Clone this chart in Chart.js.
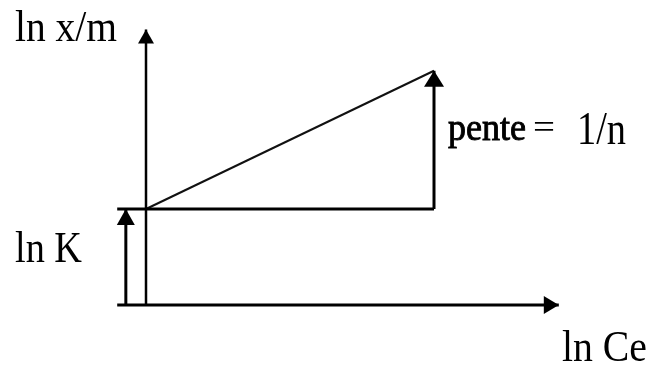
<!DOCTYPE html>
<html>
<head>
<meta charset="utf-8">
<script src="https://cdn.jsdelivr.net/npm/chart.js@4"></script>
<style>
  html, body { margin: 0; padding: 0; background: #fff; }
  #wrap { width: 649px; height: 367px; }
</style>
</head>
<body>
<div id="wrap"><canvas id="freundlich" width="649" height="367"></canvas></div>
<script>
// linearised Freundlich isotherm: ln x/m = ln K + (1/n) ln Ce
const lnCe = [0, 3];
const lnXm = [1.0, 2.44];
const lnK = 1.0;

// axis extents (same units as the data)
const xAxisRange = [-0.3, 4.3];
const yAxisRange = [0, 2.87];
const lnKArrowX = -0.21;

const labels = ['ln x/m', 'ln K', 'ln Ce', 'pente', '=', '1/n'];

function seg(x0, y0, x1, y1) {
  return [{ x: x0, y: y0 }, { x: x1, y: y1 }];
}

const lineStyle = {
  showLine: true,
  pointRadius: 0,
  borderColor: '#000',
  borderWidth: 3,
  clip: false,
};

const datasets = [
  // axes
  { ...lineStyle, data: seg(xAxisRange[0], 0, xAxisRange[1], 0), arrow: { len: 15, half: 9 } },
  { ...lineStyle, borderWidth: 2.5, data: seg(lnCe[0], yAxisRange[0], lnCe[0], yAxisRange[1]), arrow: { len: 14, half: 8 } },
  // intercept ln K
  { ...lineStyle, data: seg(lnKArrowX, 0, lnKArrowX, lnK), arrow: { len: 16, half: 9 } },
  // horizontal run
  { ...lineStyle, data: seg(xAxisRange[0], lnK, lnCe[1], lnK) },
  // rise -> slope 1/n
  { ...lineStyle, data: seg(lnCe[1], lnK, lnCe[1], lnXm[1]), arrow: { len: 16, half: 10 } },
  // the fitted line
  { ...lineStyle, borderWidth: 2, borderColor: '#111', data: seg(lnCe[0], lnXm[0], lnCe[1], lnXm[1]) },
];

const arrowHeads = {
  id: 'arrowHeads',
  afterDatasetsDraw(chart) {
    const { ctx, scales } = chart;
    chart.data.datasets.forEach(ds => {
      if (!ds.arrow) return;
      const a = ds.data[0], b = ds.data[1];
      const x0 = scales.x.getPixelForValue(a.x), y0 = scales.y.getPixelForValue(a.y);
      const x1 = scales.x.getPixelForValue(b.x), y1 = scales.y.getPixelForValue(b.y);
      const ang = Math.atan2(y1 - y0, x1 - x0);
      const { len, half } = ds.arrow;
      ctx.save();
      ctx.translate(x1, y1);
      ctx.rotate(ang);
      ctx.beginPath();
      ctx.moveTo(0, 0);
      ctx.lineTo(-len, -half);
      ctx.lineTo(-len, half);
      ctx.closePath();
      ctx.fillStyle = '#000';
      ctx.fill();
      ctx.restore();
    });
  },
};

// text is stretched to a fixed box width so it reads the same whatever serif is picked
const textLabels = {
  id: 'textLabels',
  afterDraw(chart) {
    const { ctx } = chart;
    const put = (txt, x, y, width, size, sy, heavy) => {
      ctx.save();
      ctx.font = size + 'px "Liberation Serif", "Times New Roman", serif';
      const sx = width / ctx.measureText(txt).width;
      ctx.translate(x, y);
      ctx.scale(sx, sy);
      ctx.fillStyle = '#000';
      ctx.textBaseline = 'alphabetic';
      ctx.fillText(txt, 0, 0);
      if (heavy) {
        ctx.strokeStyle = '#000';
        ctx.lineWidth = heavy;
        ctx.strokeText(txt, 0, 0);
      }
      ctx.restore();
    };
    put(labels[0], 15, 41, 102, 39, 1.15);
    put(labels[1], 15, 262, 67, 38, 1.15);
    put(labels[2], 562, 361, 85, 39, 1.15);
    put(labels[3], 448, 140, 78, 33, 1.12, 0.8);
    put(labels[4], 533, 138, 22, 34, 1.0);
    put(labels[5], 577, 144, 49, 40, 1.15);
  },
};

new Chart(document.getElementById('freundlich'), {
  type: 'scatter',
  data: { datasets },
  options: {
    responsive: false,
    animation: false,
    layout: { padding: 0 },
    plugins: {
      legend: { display: false },
      tooltip: { enabled: false },
    },
    scales: {
      x: { type: 'linear', display: false, min: -146 / 96, max: 503 / 96 },
      y: { type: 'linear', display: false, min: -62 / 96, max: 305 / 96 },
    },
  },
  plugins: [arrowHeads, textLabels],
});
</script>
</body>
</html>
